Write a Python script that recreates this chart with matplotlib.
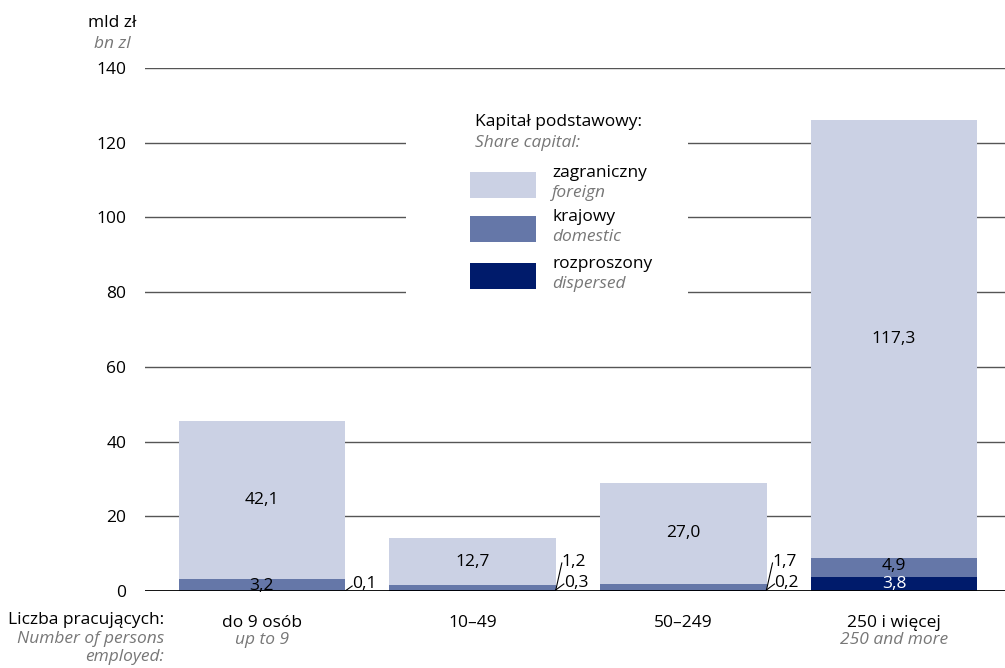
import numpy as np
import matplotlib.pyplot as plt
from matplotlib.patches import Rectangle

plt.rcParams['font.family'] = ['Open Sans', 'DejaVu Sans']

categories = ["do 9 osób", "10–49", "50–249", "250 i więcej"]
categories_en = ["up to 9", "", "", "250 and more"]
dispersed = [0.1, 0.3, 0.2, 3.8]
domestic = [3.2, 1.2, 1.7, 4.9]
foreign = [42.1, 12.7, 27.0, 117.3]
yticks = [0, 20, 40, 60, 80, 100, 120, 140]

c_foreign = "#cbd1e4"
c_domestic = "#6577a8"
c_dispersed = "#001b6b"
grey = "#777777"

W, H = 1005, 668
fig = plt.figure(figsize=(W / 100, H / 100), dpi=100)


def fx(x):
    return x / W


def fy(y):
    return 1 - y / H


# axes: x from 145 to 1005 px, y from 591 (0) to 68 (140)
ax = fig.add_axes([fx(145), fy(591), fx(1005 - 145), (591 - 68) / H])
x = np.arange(len(categories))
width = 0.79
ax.set_xlim(-0.555, 3.527)
ax.set_ylim(0, 140)

for t in yticks[1:]:
    ax.axhline(t, color="#555555", lw=1, zorder=1)

dis = np.array(dispersed)
dom = np.array(domestic)
fore = np.array(foreign)
ax.bar(x, dis, width, color=c_dispersed, zorder=3)
ax.bar(x, dom, width, bottom=dis, color=c_domestic, zorder=3)
ax.bar(x, fore, width, bottom=dis + dom, color=c_foreign, zorder=3)
ax.axhline(0, color="black", lw=1.3, zorder=5)


def fmt(v):
    return f"{v:.1f}".replace(".", ",")


fs = 12.5
for i in range(len(x)):
    ax.text(x[i], dis[i] + dom[i] + fore[i] / 2, fmt(fore[i]), ha="center",
            va="center", fontsize=fs, zorder=6)

# labels inside small segments (first and last bar)
ax.text(x[0], 1.4, fmt(dom[0]), ha="center", va="center", fontsize=fs, zorder=6)
ax.text(x[3], dis[3] + dom[3] / 2 + 0.5, fmt(dom[3]), ha="center", va="center",
        fontsize=fs, zorder=6)
ax.text(x[3], dis[3] / 2 + 0.1, fmt(dis[3]), ha="center", va="center",
        fontsize=fs, color="white", zorder=6)

# small values with leader lines
right = x + width / 2
px_x = (3.527 + 0.555) / (1005 - 145)  # data units per pixel (x)
px_y = 140 / (591 - 68)
# first bar: dispersed only
ax.plot([right[0], right[0] + 7 * px_x], [0, 5 * px_y], color="black", lw=0.8, zorder=6)
ax.text(right[0] + 7 * px_x, 1.9, fmt(dis[0]), ha="left", va="center", fontsize=fs, zorder=6)
for i in [1, 2]:
    ax.plot([right[i], right[i] + 6 * px_x], [0.3, 28 * px_y], color="black", lw=0.8, zorder=6)
    ax.text(right[i] + 6 * px_x, 29 * px_y, fmt(dom[i]), ha="left", va="center",
            fontsize=fs, zorder=6)
    ax.plot([right[i], right[i] + 8 * px_x], [0.3, 7 * px_y], color="black", lw=0.8, zorder=6)
    ax.text(right[i] + 8 * px_x, 2.2, fmt(dis[i]), ha="left", va="center",
            fontsize=fs, zorder=6)

for s in ax.spines.values():
    s.set_visible(False)
ax.set_yticks(yticks)
ax.set_yticklabels([str(t) for t in yticks], fontsize=fs)
ax.tick_params(axis="y", length=0, pad=13.5)
ax.set_xticks(x)
ax.set_xticklabels(categories, fontsize=fs)
ax.tick_params(axis="x", length=0, pad=17.5)
for i, lab in enumerate(categories_en):
    if lab:
        ax.text(x[i], -13.1, lab, ha="center", va="center", fontsize=fs,
                style="italic", color=grey)

# axis titles
fig.text(fx(112), fy(23), "mld zł", ha="center", va="center", fontsize=fs)
fig.text(fx(112), fy(44), "bn zl", ha="center", va="center", fontsize=fs,
         style="italic", color=grey)
fig.text(fx(164), fy(620), "Liczba pracujących:", ha="right", va="center", fontsize=fs)
fig.text(fx(164), fy(639), "Number of persons", ha="right", va="center", fontsize=fs,
         style="italic", color=grey)
fig.text(fx(164), fy(657), "employed:", ha="right", va="center", fontsize=fs,
         style="italic", color=grey)

# legend
fig.patches.append(Rectangle((fx(406), fy(300)), fx(688 - 406), (300 - 100) / H,
                             transform=fig.transFigure, facecolor="white",
                             edgecolor="none", zorder=2))
fig.text(fx(475), fy(122), "Kapitał podstawowy:", ha="left", va="center", fontsize=fs, zorder=4)
fig.text(fx(475), fy(143), "Share capital:", ha="left", va="center", fontsize=fs,
         style="italic", color=grey, zorder=4)
leg = [("zagraniczny", "foreign", c_foreign, 172),
       ("krajowy", "domestic", c_domestic, 216),
       ("rozproszony", "dispersed", c_dispersed, 263)]
for pl, en, col, top in leg:
    fig.patches.append(Rectangle((fx(470), fy(top + 26)), fx(66), 26 / H,
                                 transform=fig.transFigure, facecolor=col,
                                 edgecolor="none", zorder=3))
    fig.text(fx(552), fy(top + 1), pl, ha="left", va="center", fontsize=fs, zorder=4)
    fig.text(fx(552), fy(top + 21), en, ha="left", va="center", fontsize=fs,
             style="italic", color=grey, zorder=4)

fig.savefig("out.png", dpi=100)
